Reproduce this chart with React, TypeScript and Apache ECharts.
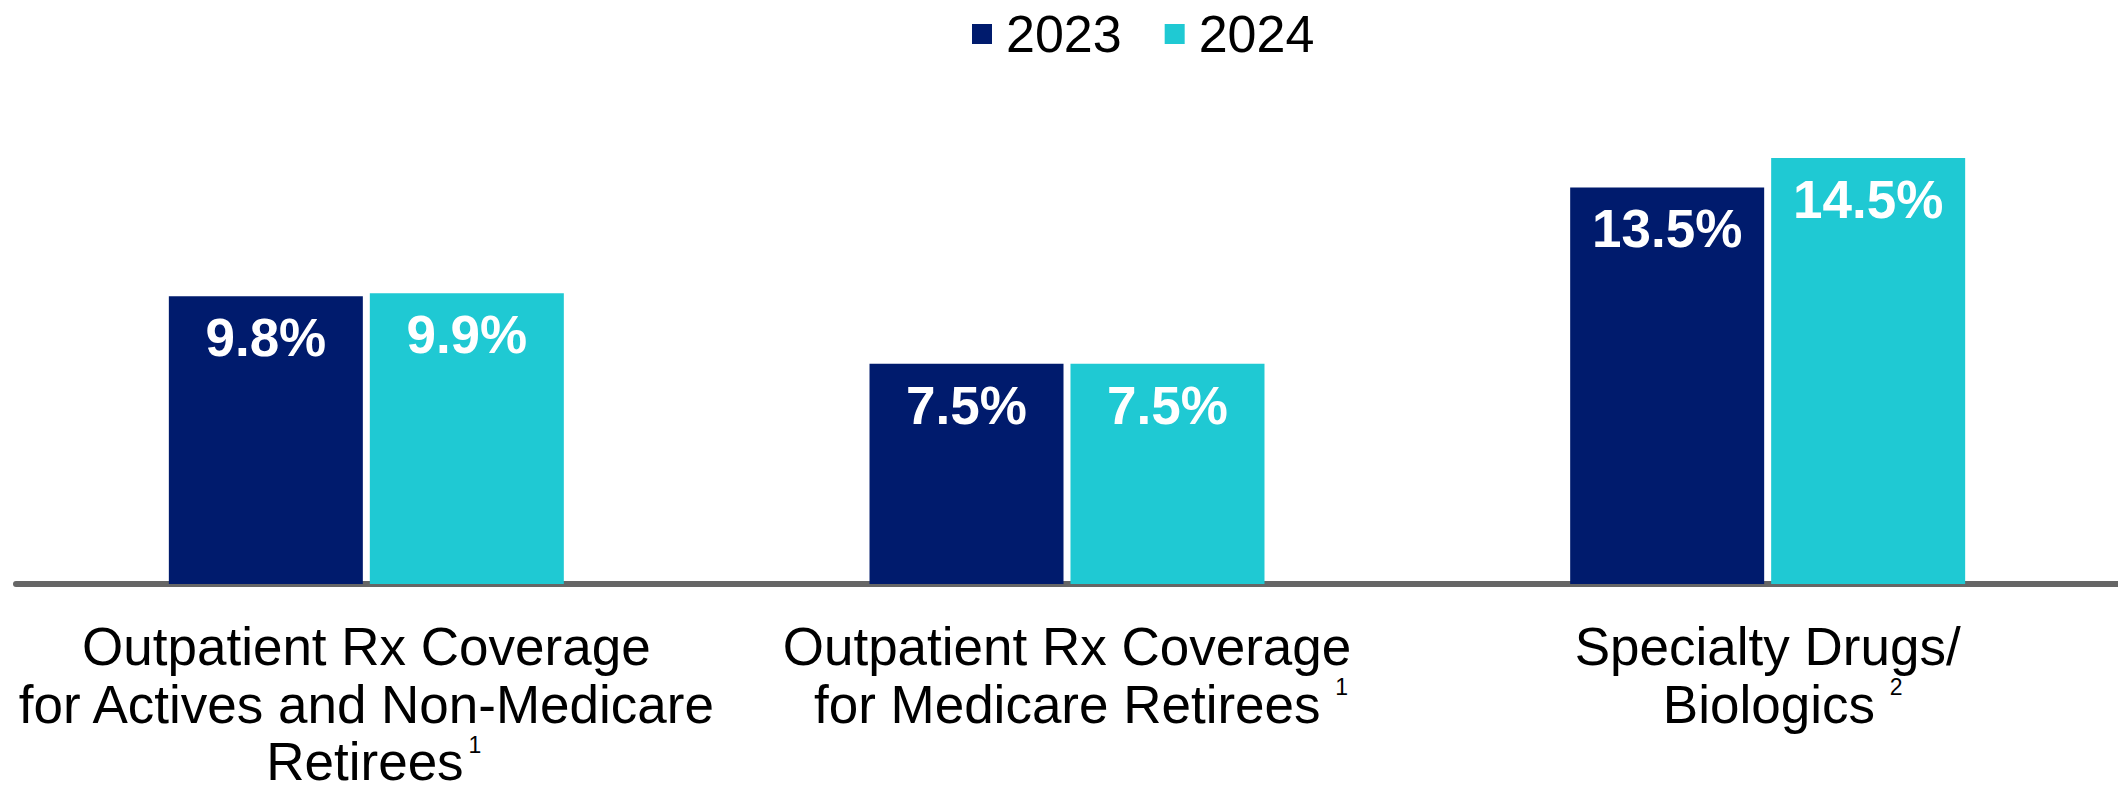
import React, { useEffect, useRef } from "react";
import * as echarts from "echarts";

const categories = [
  "Outpatient Rx Coverage\nfor Actives and Non-Medicare\nRetirees",
  "Outpatient Rx Coverage\nfor Medicare Retirees ",
  "Specialty Drugs/\nBiologics ",
];
const footnotes = ["1", "1", "2"];
const seriesNames = ["2023", "2024"];
const values2023 = [9.8, 7.5, 13.5];
const values2024 = [9.9, 7.5, 14.5];

const FONT = "'Liberation Sans', Arial, Helvetica, sans-serif";
const NAVY = "#001B6D";
const TEAL = "#1FC9D3";
// per-label typographic tweaks (leading indent, superscript gap and raise)
const LEAD_PAD = [15, 28, 30];
const SUP_GAP = [5, 0, 0];
const SUP_LH = [43, 31, 21];

export default function App() {
  const ref = useRef<HTMLDivElement>(null);
  useEffect(() => {
    if (!ref.current) return;
    const chart = echarts.init(ref.current, null, { renderer: "svg" });
    const dataLabel = {
      show: true,
      position: "insideTop",
      distance: 15,
      color: "#ffffff",
      fontFamily: FONT,
      fontWeight: "bold",
      fontSize: 53,
      lineHeight: 53,
      formatter: "{c}%",
    };
    const rich: Record<string, any> = {};
    categories.forEach((_, i) => {
      rich["pad" + i] = {
        width: LEAD_PAD[i],
        fontFamily: FONT,
        fontSize: 53,
        lineHeight: 57.5,
      };
      rich["sup" + i] = {
        fontFamily: FONT,
        fontSize: 23,
        lineHeight: SUP_LH[i],
        verticalAlign: "top",
        padding: [0, 0, 0, SUP_GAP[i]],
        color: "#000000",
      };
    });
    chart.setOption({
      animation: false,
      backgroundColor: "#ffffff",
      legend: {
        left: 967,
        top: 3,
        icon: "rect",
        itemWidth: 20,
        itemHeight: 20,
        itemGap: 43,
        textStyle: {
          fontFamily: FONT,
          fontSize: 52,
          color: "#000000",
          padding: [0, 0, 0, 9],
        },
        data: seriesNames,
      },
      grid: { left: 16, width: 2108, top: 114, bottom: 207, containLabel: false },
      xAxis: {
        type: "category",
        data: categories,
        axisLine: { show: true, lineStyle: { color: "#666666", width: 6 } },
        axisTick: { show: false },
        axisLabel: {
          interval: 0,
          margin: 34,
          color: "#000000",
          fontFamily: FONT,
          fontSize: 53,
          lineHeight: 57.5,
          formatter: (value: string, idx: number) => {
            const lines = value.split("\n");
            const last = lines.length - 1;
            lines[last] =
              "{pad" + idx + "| }" + lines[last] + "{sup" + idx + "|" + footnotes[idx] + "}";
            return lines.join("\n");
          },
          rich,
        },
      },
      yAxis: {
        type: "value",
        min: 0,
        max: 16,
        show: false,
        splitLine: { show: false },
      },
      series: [
        {
          name: seriesNames[0],
          type: "bar",
          data: values2023,
          barWidth: 194,
          barGap: "3.6%",
          itemStyle: { color: NAVY },
          label: dataLabel,
        },
        {
          name: seriesNames[1],
          type: "bar",
          data: values2024,
          barWidth: 194,
          barGap: "3.6%",
          itemStyle: { color: TEAL },
          label: dataLabel,
        },
      ],
    });
    return () => chart.dispose();
  }, []);
  return (
    <div
      ref={ref}
      style={{ position: "absolute", left: 0, top: 0, width: 2118, height: 791 }}
    />
  );
}
